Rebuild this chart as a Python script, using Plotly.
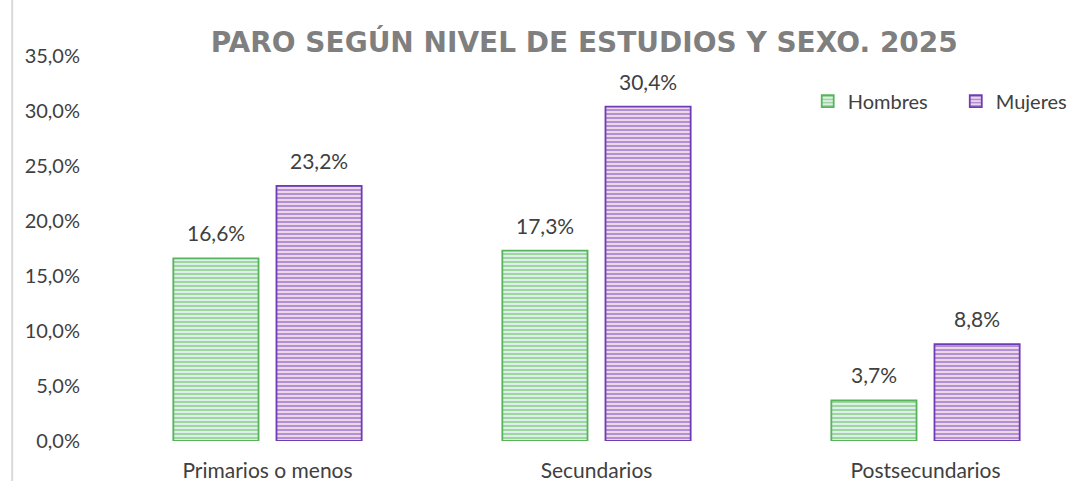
import plotly.graph_objects as go

categories = ["Primarios o menos", "Secundarios", "Postsecundarios"]
hombres = [16.6, 17.3, 3.7]
mujeres = [23.2, 30.4, 8.8]
series_names = ["Hombres", "Mujeres"]
tick_vals = [0, 5, 10, 15, 20, 25, 30, 35]
tick_text = [f"{v:.1f}".replace(".", ",") + "%" for v in tick_vals]
title_text = "PARO SEGÚN NIVEL DE ESTUDIOS Y SEXO. 2025"

FONT = "Lato, Open Sans, sans-serif"
W, H = 1090, 481
ML, MR, MT, MB = 103, 0, 56, 40
BARGAP = 0.373
label_font = dict(family=FONT, size=21, color="#404040")

fig = go.Figure()
fig.add_trace(go.Bar(
    x=categories, y=hombres, name=series_names[0], legend="legend",
    marker=dict(color="#e4f3ee",
                line=dict(color="#58b45a", width=1.8),
                pattern=dict(shape="-", fgcolor="#5cb948", bgcolor="#e2f2f4", size=4, solidity=0.55)),
))
fig.add_trace(go.Bar(
    x=categories, y=mujeres, name=series_names[1], legend="legend2",
    marker=dict(color="#efdff0",
                line=dict(color="#6f3cb6", width=1.8),
                pattern=dict(shape="-", fgcolor="#7244c2", bgcolor="#f3dde8", size=4, solidity=0.55)),
))

# value labels placed above each bar (offset derived from the bar layout)
cat_px = (W - ML - MR) / len(categories)
half_slot = (1 - BARGAP) * cat_px / 4
for series, sign in ((hombres, -1), (mujeres, 1)):
    for c, v in zip(categories, series):
        fig.add_annotation(x=c, y=v, text=f"{v:.1f}".replace(".", ",") + "%",
                           showarrow=False, xshift=sign * half_slot, yshift=11,
                           yanchor="bottom", font=label_font)

legend_common = dict(orientation="h", xanchor="left", y=0.883, yanchor="middle",
                     font=dict(family=FONT, size=20, color="#404040"),
                     bgcolor="rgba(0,0,0,0)")

fig.update_layout(
    width=W, height=H,
    margin=dict(l=ML, r=MR, t=MT, b=MB, autoexpand=False),
    paper_bgcolor="white", plot_bgcolor="white",
    separators=",.",
    barmode="group", bargap=BARGAP, bargroupgap=0.174,
    title=dict(text="<b>" + title_text + "</b>", x=0.536, xanchor="center", xref="container",
               y=0.913, yanchor="middle", yref="container",
               font=dict(family="DejaVu Sans, sans-serif", size=28, color="#7f7f7f")),
    legend=dict(x=0.714, **legend_common),
    legend2=dict(x=0.864, **legend_common),
    showlegend=True,
    xaxis=dict(showgrid=False, showline=False, ticks="", ticklabelstandoff=15,
               tickfont=dict(family=FONT, size=21, color="#404040")),
    yaxis=dict(range=[0, 35], tickvals=tick_vals, ticktext=tick_text,
               showgrid=False, zeroline=False, showline=False, ticks="", ticklabelstandoff=22,
               tickfont=dict(family=FONT, size=20, color="#404040")),
    shapes=[dict(type="line", xref="paper", yref="paper", x0=-0.092, x1=-0.092, y0=-0.2, y1=1.2,
                 line=dict(color="#d9d9d9", width=2))],
)

fig.write_html("out.html", config={"displayModeBar": False},
               post_script="document.body.style.margin='0px';")
